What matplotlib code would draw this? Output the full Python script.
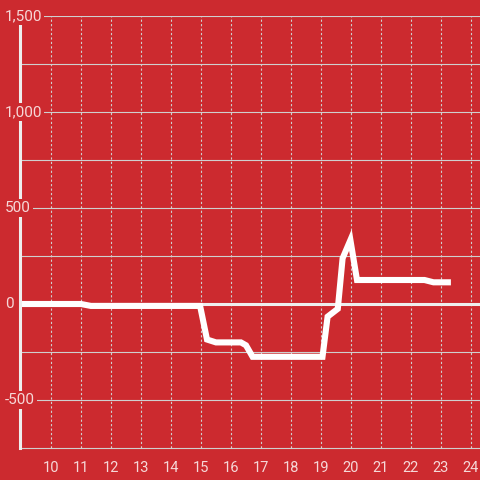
import matplotlib
matplotlib.use("Agg")
import matplotlib.pyplot as plt

plt.rcParams["font.family"] = ["Roboto", "DejaVu Sans"]

# Colors
BG = "#CC2A2F"
LINE = "#FFFFFF"
LABEL = "#F6D8D8"
GRID = "#CFCFCF"
SPINE = "#EEEEEE"

# Data (hour of day, value)
hours = [8.9, 11.0, 11.33, 14.97, 15.2, 15.5, 16.33, 16.5, 16.72,
         19.05, 19.22, 19.56, 19.72, 19.98, 20.2, 22.45, 22.75, 23.33]
values = [0, 0, -10, -10, -185, -200, -200, -215, -275,
          -275, -66, -25, 238, 333, 125, 125, 113, 113]

x_ticks = list(range(10, 25))
y_ticks = [1500, 1000, 500, 0, -500]
y_labels = ["1,500", "1,000", "500", "0", "-500"]
y_grid = [1250, 750, 250, -250, -750]

fig = plt.figure(figsize=(4.8, 4.8), dpi=100)
fig.patch.set_facecolor(BG)
ax = fig.add_axes([20 / 480, 30 / 480, 460 / 480, 434 / 480])
ax.set_facecolor(BG)
ax.set_xlim(8.967, 24.3)
ax.set_ylim(-760.4, 1500)

# grid
for x in x_ticks:
    ax.axvline(x, ymin=10.4 / 2260.4, color=GRID, lw=0.8, ls=(0, (2, 2)), zorder=1)
for y in y_ticks + y_grid:
    if y != 0:
        ax.axhline(y, color=GRID, lw=0.8, zorder=1)
ax.axhline(0, color=SPINE, lw=2.2, zorder=2)

ax.plot(hours, values, color=LINE, lw=4.4, solid_joinstyle="miter",
        solid_capstyle="butt", zorder=3)

for s in ["top", "right", "bottom"]:
    ax.spines[s].set_visible(False)
ax.spines["left"].set_color(SPINE)
ax.spines["left"].set_linewidth(2.2)
ax.spines["left"].set_zorder(4)
ax.spines["left"].set_bounds(-750, 1500)

ax.set_xticks(x_ticks)
ax.set_yticks([])
ax.tick_params(axis="x", length=0, pad=8, labelcolor=LABEL, labelsize=10.5)

for y, lab in zip(y_ticks, y_labels):
    ax.text(-15 / 460, y, lab, transform=ax.get_yaxis_transform(),
            ha="left", va="center", color=LABEL, fontsize=11, zorder=10,
            bbox=dict(boxstyle="square,pad=0.12", fc=BG, ec="none"))

fig.savefig("out.png", dpi=100, facecolor=BG)
